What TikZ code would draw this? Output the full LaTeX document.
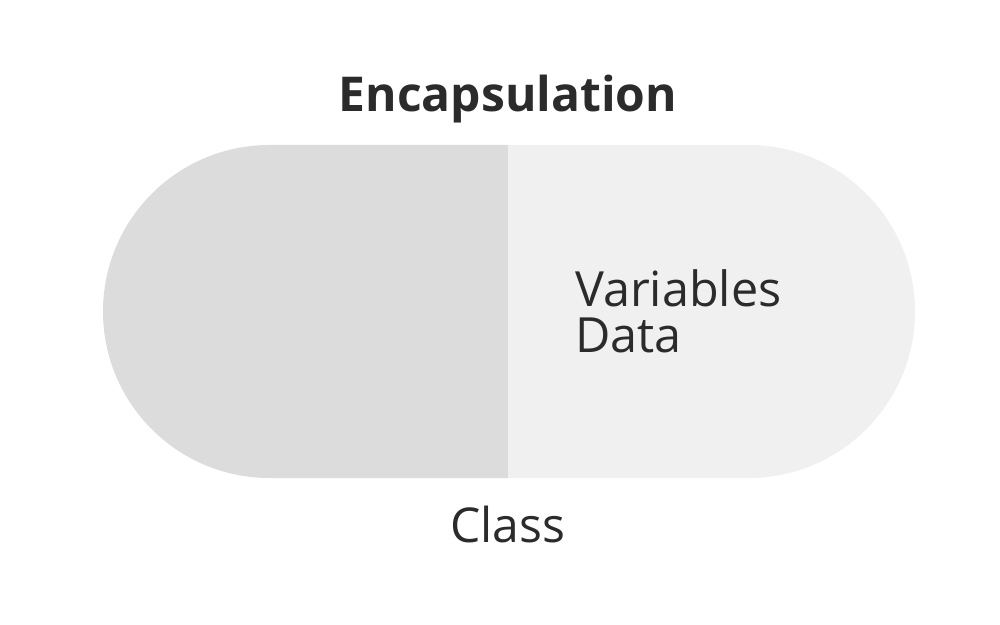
\documentclass[tikz,border=0pt]{standalone}
\usepackage{fontspec}
\setmainfont{Open Sans}
\definecolor{leftc}{HTML}{DCDCDC}
\definecolor{rightc}{HTML}{F0F0F0}
\definecolor{txt}{HTML}{2B2B2B}
\begin{document}
\begin{tikzpicture}[x=1pt,y=1pt,
  lbl/.style={inner sep=0pt,text=txt}]
\fill[white] (0,0) rectangle (1000,624);
\useasboundingbox (0,0) rectangle (1000,624);
\fill[leftc] (508,479) -- (269.5,479) arc[start angle=90,end angle=270,radius=166.5] -- (508,146) -- cycle;
\fill[rightc] (508,146) -- (748.5,146) arc[start angle=-90,end angle=90,radius=166.5] -- (508,479) -- cycle;
\node[lbl,anchor=base,font=\fontsize{48}{56}\selectfont\bfseries] (title) at (508,512) {Encapsulation};
\node[lbl,anchor=base west,font=\fontsize{48.5}{56}\selectfont] (vars) at (575,317) {Variables};
\node[lbl,anchor=base west,font=\fontsize{48.5}{56}\selectfont] (data) at (575,271) {Data};
\node[lbl,anchor=base,font=\fontsize{48}{56}\selectfont] (cls) at (508,82) {Class};
\end{tikzpicture}
\end{document}
